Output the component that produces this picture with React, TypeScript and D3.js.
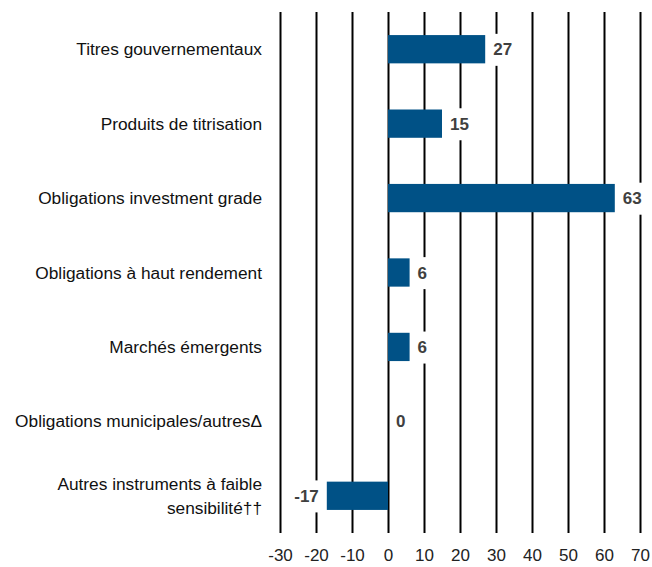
import React, { useEffect, useRef } from 'react';
import * as d3 from 'd3';

// allocation changes by sector
const categories = [
  'Titres gouvernementaux',
  'Produits de titrisation',
  'Obligations investment grade',
  'Obligations à haut rendement',
  'Marchés émergents',
  'Obligations municipales/autresΔ',
  'Autres instruments à faible\nsensibilité††',
];
const values = [27, 15, 63, 6, 6, 0, -17];
const ticks = [-30, -20, -10, 0, 10, 20, 30, 40, 50, 60, 70];

const W = 652;
const H = 567;
const FONT = '"Liberation Sans", Arial, sans-serif';

export default function App() {
  const ref = useRef<SVGSVGElement>(null);

  useEffect(() => {
    const svg = d3.select(ref.current);
    svg.selectAll('*').remove();

    const top = 12, bottom = 533;
    const x = d3.scaleLinear().domain([-30, 70]).range([280, 640]);
    const y = d3.scaleBand<number>()
      .domain(d3.range(categories.length))
      .range([top, bottom])
      .paddingInner(0.62)
      .paddingOuter(0.31);

    // gridlines + tick labels
    const axis = d3.axisBottom(x)
      .tickValues(ticks)
      .tickSizeInner(-(bottom - top))
      .tickSizeOuter(0)
      .tickPadding(16)
      .tickFormat(d => String(d));

    const g = svg.append('g')
      .attr('transform', `translate(0,${bottom})`)
      .call(axis);
    g.select('.domain').remove();
    g.selectAll('line').attr('stroke', '#000').attr('stroke-width', 2);
    g.selectAll('text')
      .attr('font-family', FONT)
      .attr('font-size', 17)
      .attr('fill', '#222');

    // category labels
    const lab = svg.append('g');
    categories.forEach((c, i) => {
      const lines = c.split('\n');
      const cy = (y(i) as number) + y.bandwidth() / 2;
      const t = lab.append('text')
        .attr('x', 262)
        .attr('text-anchor', 'end')
        .attr('font-family', FONT)
        .attr('font-size', 17.3)
        .attr('fill', '#111');
      lines.forEach((l, j) => {
        t.append('tspan')
          .attr('x', 262)
          .attr('y', cy + (j - (lines.length - 1) / 2) * 24)
          .attr('dy', '0.35em')
          .text(l);
      });
    });

    // bars
    svg.append('g').selectAll('rect')
      .data(values)
      .enter()
      .append('rect')
      .attr('x', d => x(Math.min(0, d)))
      .attr('y', (d, i) => y(i) as number)
      .attr('width', d => Math.abs(x(d) - x(0)))
      .attr('height', y.bandwidth())
      .attr('fill', '#005186');

    // value labels with white backing
    const vl = svg.append('g').selectAll('g')
      .data(values)
      .enter()
      .append('g');
    vl.append('text')
      .attr('class', 'val')
      .attr('x', d => d < 0 ? x(d) - 8 : x(d) + 8)
      .attr('y', (d, i) => (y(i) as number) + y.bandwidth() / 2)
      .attr('dy', '0.36em')
      .attr('text-anchor', d => d < 0 ? 'end' : 'start')
      .attr('font-family', FONT)
      .attr('font-weight', 'bold')
      .attr('font-size', 17)
      .attr('fill', '#404040')
      .text(d => d);
    vl.each(function () {
      const gg = d3.select(this);
      const txt = gg.select('text').node() as SVGTextElement;
      const b = txt.getBBox();
      gg.insert('rect', 'text')
        .attr('x', b.x - 2)
        .attr('y', b.y + b.height / 2 - 16)
        .attr('width', b.width + 4)
        .attr('height', 32)
        .attr('fill', '#fff');
    });
  }, []);

  return (
    <svg
      ref={ref}
      width={W}
      height={H}
      style={{ position: 'absolute', left: 0, top: 0, background: '#fff' }}
    />
  );
}
